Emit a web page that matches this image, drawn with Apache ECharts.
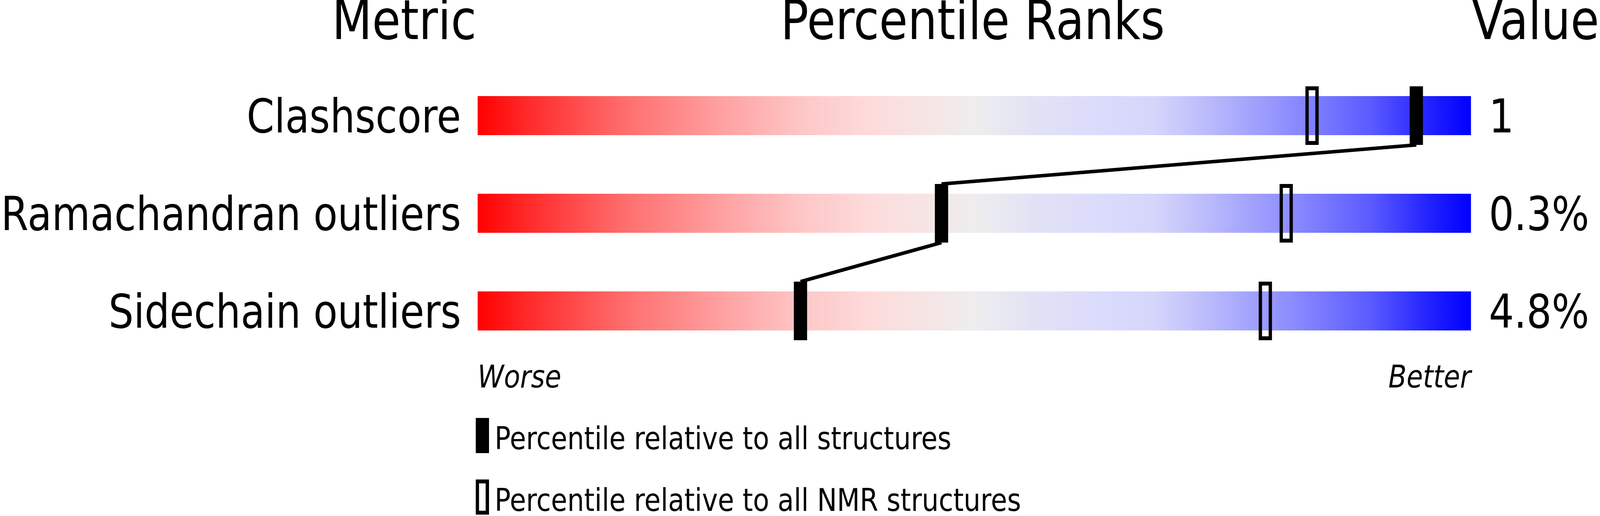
<!DOCTYPE html>
<html>
<head>
<meta charset="utf-8">
<script src="https://cdn.jsdelivr.net/npm/echarts@6/dist/echarts.min.js"></script>
<style>
  html, body { margin: 0; padding: 0; background: #fff; overflow: hidden; }
  #chart { width: 4823px; height: 1321px; transform-origin: 0 0; }
</style>
</head>
<body>
<div id="chart"></div>
<script>
const metrics = ['Clashscore', 'Ramachandran outliers', 'Sidechain outliers']
const valueLabels = ['1', '0.3%', '4.8%']
const pctAll = [94.5, 46.7, 32.5] // percentile vs all structures
const pctNmr = [84.0, 81.4, 79.3] // percentile vs NMR structures
const scaleEnds = ['Worse', 'Better']
const seriesNames = ['Percentile relative to all structures', 'Percentile relative to all NMR structures']

const FONT = 'DejaVu Sans'
const MARK_H = 150 // marker height, bar is 100
const chartEl = document.getElementById('chart')
// the window may be narrower than the 4823px design, squeeze it to fit
const sx = Math.min(1, window.innerWidth / 4823)
if (sx < 1) chartEl.style.transform = `scale(${sx}, 1)`
const myChart = echarts.init(chartEl, null, { renderer: 'canvas' })

// bar gradient red -> grey -> blue
const barGradient = new echarts.graphic.LinearGradient(0, 0, 1, 0, [
  { offset: 0, color: '#ff0000' },
  { offset: 0.05, color: '#ff2a2a' },
  { offset: 0.15, color: '#ff6f6f' },
  { offset: 0.25, color: '#ffa3a3' },
  { offset: 0.33, color: '#fec8c8' },
  { offset: 0.4, color: '#fddcdc' },
  { offset: 0.46, color: '#f5e6e6' },
  { offset: 0.5, color: '#eeeeee' },
  { offset: 0.56, color: '#e2e2f6' },
  { offset: 0.62, color: '#dcdcfc' },
  { offset: 0.68, color: '#d6d6fc' },
  { offset: 0.74, color: '#b8b8fc' },
  { offset: 0.82, color: '#8c8cff' },
  { offset: 0.9, color: '#5a5aff' },
  { offset: 0.96, color: '#2020ff' },
  { offset: 1, color: '#0000ff' }
])

// segments joining the filled markers: [x, row, prevX, prevRow]
const linkData = pctAll.slice(1).map((v, i) => [v, i + 1, pctAll[i], i])

// hollow frame icon for the NMR legend entry (outer 40x90, 10px wall)
const hollowIcon = 'path://M0,0H40V90H0Z M10,10V80H30V10Z'

const option = {
  backgroundColor: '#fff',
  animation: false,
  textStyle: { fontFamily: FONT, color: '#000' },
  title: [
    { text: 'Metric', left: 1436, top: -6, padding: 0, textAlign: 'right', textStyle: { fontSize: 140, fontWeight: 'normal', color: '#000' } },
    { text: 'Percentile Ranks', left: 2932, top: -6, padding: 0, textAlign: 'center', textStyle: { fontSize: 140, fontWeight: 'normal', color: '#000' } },
    { text: 'Value', left: 4436, top: -6, padding: 0, textAlign: 'left', textStyle: { fontSize: 140, fontWeight: 'normal', color: '#000' } }
  ],
  legend: {
    orient: 'vertical',
    left: 1429,
    top: 1065,
    height: 300,
    itemWidth: 40,
    itemHeight: 90,
    itemGap: 58,
    selectedMode: false,
    formatter: (name) => `{t|${name}}`,
    textStyle: {
      fontFamily: FONT,
      color: '#000',
      rich: { t: { fontSize: 80, fontFamily: FONT, color: '#000', padding: [29, 0, 0, 12] } }
    },
    data: [
      { name: seriesNames[0], icon: 'rect', itemStyle: { color: '#000', borderWidth: 0 } },
      { name: seriesNames[1], icon: hollowIcon, itemStyle: { color: '#000', borderWidth: 0 } }
    ]
  },
  grid: { left: 1434, right: 389, top: 171, bottom: 400 },
  xAxis: {
    type: 'value',
    min: 0,
    max: 100,
    interval: 100,
    axisLine: { show: false },
    axisTick: { show: false },
    splitLine: { show: false },
    axisLabel: {
      margin: 10,
      fontSize: 80,
      fontStyle: 'italic',
      color: '#000',
      alignMinLabel: 'left',
      alignMaxLabel: 'right',
      formatter: (v) => (v === 0 ? scaleEnds[0] : scaleEnds[1])
    }
  },
  yAxis: [
    {
      type: 'category',
      data: metrics,
      inverse: true,
      axisLine: { show: false },
      axisTick: { show: false },
      // top-aligned with a short line box so the baseline sits on the bar bottom
      axisLabel: { fontSize: 119, color: '#000', margin: 50, verticalAlign: 'top', lineHeight: 24 }
    },
    {
      type: 'category',
      data: valueLabels,
      inverse: true,
      position: 'right',
      axisLine: { show: false },
      axisTick: { show: false },
      axisLabel: { fontSize: 119, color: '#000', margin: 54, verticalAlign: 'top', lineHeight: 24 }
    }
  ],
  series: [
    {
      type: 'bar',
      silent: true,
      barWidth: 100,
      data: metrics.map(() => 100),
      itemStyle: { color: barGradient },
      z: 1
    },
    {
      type: 'custom',
      silent: true,
      data: linkData,
      encode: { x: 0, y: 1 },
      renderItem: (params, api) => {
        const a = api.coord([api.value(2), api.value(3)])
        const b = api.coord([api.value(0), api.value(1)])
        return {
          type: 'line',
          shape: { x1: a[0], y1: a[1] + MARK_H / 2, x2: b[0], y2: b[1] - MARK_H / 2 },
          style: { stroke: '#000', lineWidth: 9 }
        }
      },
      z: 2
    },
    {
      name: seriesNames[1],
      type: 'custom',
      silent: true,
      data: pctNmr.map((v, i) => [v, i]),
      encode: { x: 0, y: 1 },
      itemStyle: { color: '#000' },
      renderItem: (params, api) => {
        const p = api.coord([api.value(0), api.value(1)])
        return {
          type: 'rect',
          shape: { x: p[0] - 15, y: p[1] - MARK_H / 2 + 5, width: 30, height: MARK_H - 10 },
          style: { fill: 'none', stroke: '#000', lineWidth: 10 }
        }
      },
      z: 3
    },
    {
      name: seriesNames[0],
      type: 'custom',
      silent: true,
      data: pctAll.map((v, i) => [v, i]),
      encode: { x: 0, y: 1 },
      itemStyle: { color: '#000' },
      renderItem: (params, api) => {
        const p = api.coord([api.value(0), api.value(1)])
        return {
          type: 'rect',
          shape: { x: p[0] - 20, y: p[1] - MARK_H / 2, width: 40, height: MARK_H },
          style: { fill: '#000' }
        }
      },
      z: 4
    }
  ]
}
option && myChart.setOption(option)
</script>
</body>
</html>
